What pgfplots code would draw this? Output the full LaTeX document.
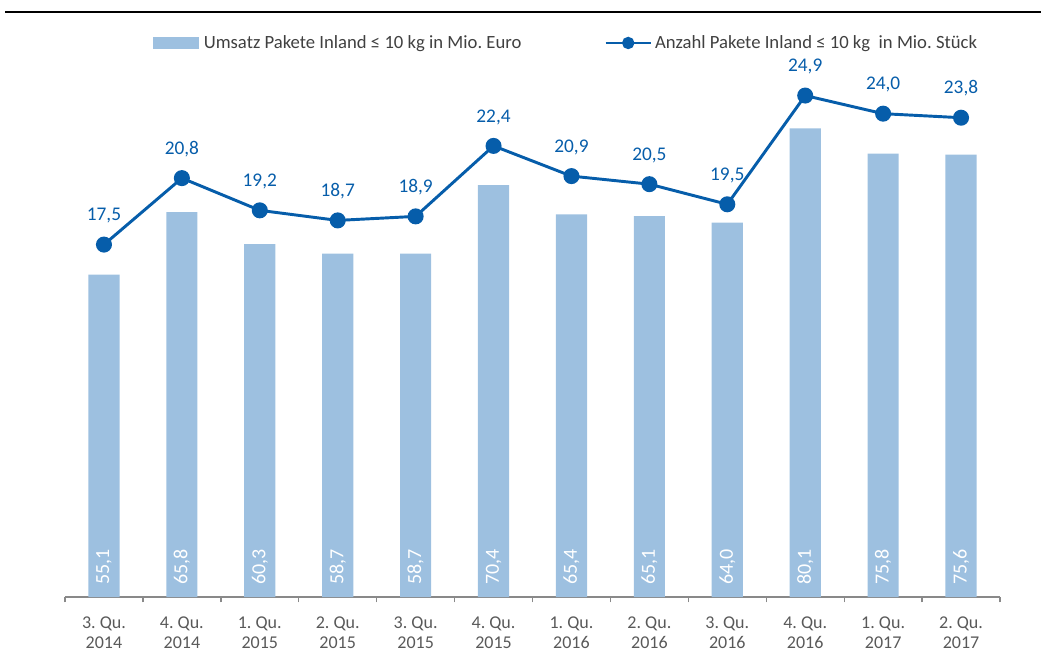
\documentclass[border=0pt]{standalone}
\usepackage{pgfplots}
\pgfplotsset{compat=1.18}
\usepackage{pgfplotstable}
\usepackage{fontspec}
\setmainfont{Carlito}
\definecolor{barblue}{HTML}{9DC0E0}
\definecolor{lineblue}{HTML}{065DAA}
\definecolor{axisgray}{HTML}{898989}
\definecolor{labelgray}{HTML}{595959}
\definecolor{legendgray}{HTML}{404040}

% x: Quartal (0 = 3. Qu. 2014), umsatz in Mio. Euro, anzahl in Mio. Stueck
\pgfplotstableread{
x  umsatz anzahl
0  55.1   17.5
1  65.8   20.8
2  60.3   19.2
3  58.7   18.7
4  58.7   18.9
5  70.4   22.4
6  65.4   20.9
7  65.1   20.5
8  64.0   19.5
9  80.1   24.9
10 75.8   24.0
11 75.6   23.8
}\quartale

\begin{document}
\begin{tikzpicture}[x=1pt,y=1pt]
\useasboundingbox (0,0) rectangle (780.75,492.75);
\draw[line width=2.2pt] (3.75,483.75) -- (780.75,483.75);
\pgfplotsset{
  base/.style={scale only axis, width=701.25pt, height=438.75pt,
    at={(48.75pt,45pt)}, anchor=south west,
    xmin=-0.5, xmax=11.5, ymin=0, clip=false,
    /pgf/number format/.cd, use comma, fixed, fixed zerofill, precision=1,
    assume math mode=true},
}
\begin{axis}[base, ymax=100,
    hide y axis, axis x line*=bottom,
    x axis line style={draw=none},
    xtick={0,...,11},
    xticklabels={{3.\ Qu.\\2014},{4.\ Qu.\\2014},{1.\ Qu.\\2015},{2.\ Qu.\\2015},
      {3.\ Qu.\\2015},{4.\ Qu.\\2015},{1.\ Qu.\\2016},{2.\ Qu.\\2016},
      {3.\ Qu.\\2016},{4.\ Qu.\\2016},{1.\ Qu.\\2017},{2.\ Qu.\\2017}},
    major tick length=0pt,
    minor xtick={-0.5,0.5,...,11.5},
    minor tick length=4pt, tick align=outside,
    minor tick style={axisgray, line width=1pt},
    xticklabel style={align=center, text=labelgray, anchor=north, yshift=-11pt,
      font=\fontsize{13.5}{15.5}\selectfont},
  ]
  \draw[axisgray, line width=1pt] (rel axis cs:0,0) -- (rel axis cs:1,0);
  \addplot[ybar, bar width=0.4, fill=barblue, draw=none,
    nodes near coords, point meta=y,
    visualization depends on={y \as \rawy},
    every node near coord/.append style={shift={(axis direction cs:0,-\rawy)},
      rotate=90, anchor=west, inner xsep=9pt, text=white,
      font=\fontsize{15}{17}\selectfont}]
    table[x=x, y=umsatz] {\quartale};
\end{axis}
\begin{axis}[base, ymax=29.05, hide axis,
    legend columns=2,
    legend style={at={(0.536,0.947)}, anchor=center, draw=none, fill=none,
      font=\fontsize{14}{16}\selectfont, text=legendgray,
      /tikz/every even column/.append style={column sep=60pt}},
    legend cell align=left,
  ]
  \addlegendimage{legend image code/.code={\fill[barblue] (0pt,-4pt) rectangle (34pt,4pt);}}
  \addlegendentry{\hspace{2pt}Umsatz Pakete Inland ≤ 10 kg in Mio.\ Euro}
  \addplot[lineblue, line width=2.2pt, mark=*, mark size=4.9pt,
    nodes near coords, point meta=y,
    every node near coord/.append style={text=lineblue, anchor=south, yshift=11.5pt,
      font=\fontsize{14.5}{16}\selectfont},
    legend image code/.code={\draw[lineblue, line width=2.2pt] (0pt,0pt) -- (34pt,0pt);
      \fill[lineblue] (17pt,0pt) circle (3.5pt);}]
    table[x=x, y=anzahl] {\quartale};
  \addlegendentry{Anzahl Pakete Inland ≤ 10 kg\ \ in Mio.\ Stück}
\end{axis}
\end{tikzpicture}
\end{document}
